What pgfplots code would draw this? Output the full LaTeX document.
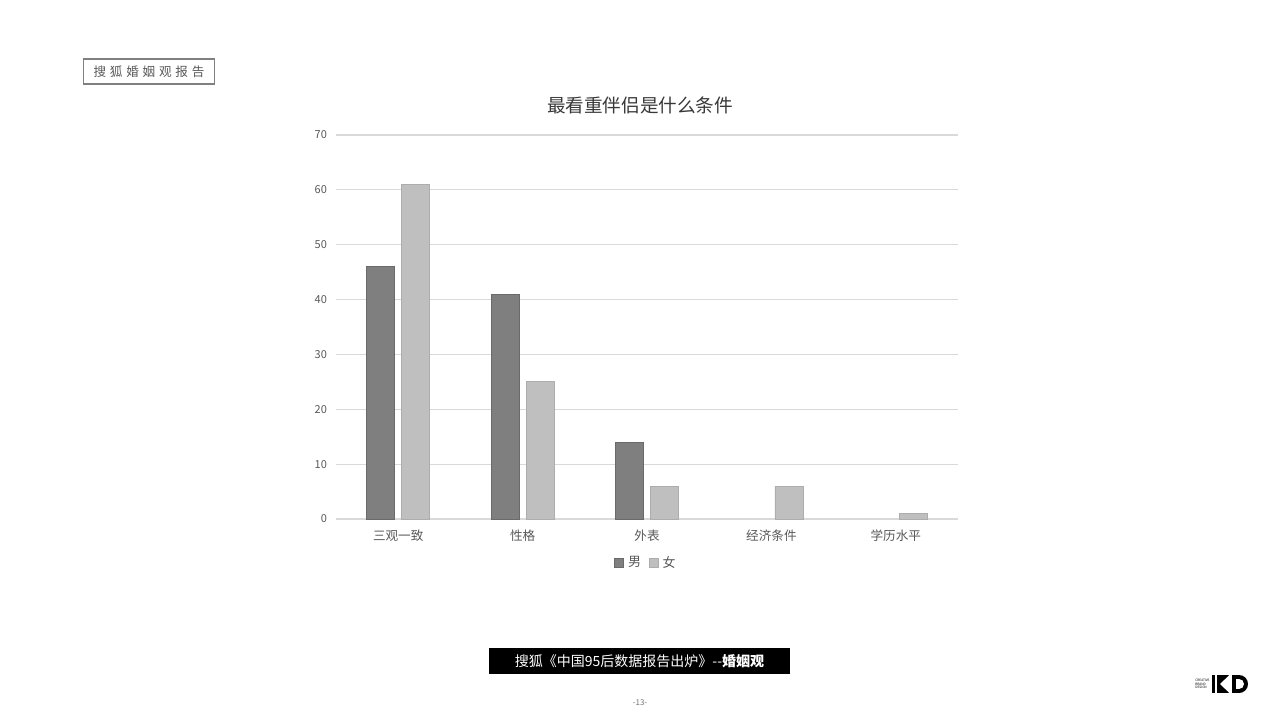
\documentclass[border=0pt]{standalone}
\usepackage{pgfplots}
\pgfplotsset{compat=1.18}
\usepackage{fontspec}
\setmainfont{Noto Sans CJK SC}
\definecolor{barM}{HTML}{7F7F7F}
\definecolor{barMe}{HTML}{6A6A6A}
\definecolor{barF}{HTML}{BFBFBF}
\definecolor{barFe}{HTML}{ADADAD}
\definecolor{gridc}{HTML}{D9D9D9}
\definecolor{txt}{HTML}{595959}
\begin{document}
\begin{tikzpicture}[x=0.5pt,y=0.5pt]
% page, 1 unit = 1 px of the 1280x720 slide
\fill[white] (0,0) rectangle (1280,720);
% top-left tag
\draw[color=black!50,line width=0.6pt] (83.5,636) rectangle (214.5,661);
\node[color=black!65,font=\fontsize{6.3}{7}\selectfont] at (149,648.5)
  {搜\hspace{1.9pt}狐\hspace{1.9pt}婚\hspace{1.9pt}姻\hspace{1.9pt}观\hspace{1.9pt}报\hspace{1.9pt}告};
% title
\node[color=black!78,font=\fontsize{9.3}{10}\selectfont] at (640,615) {最看重伴侣是什么条件};
\begin{axis}[
 at={(168pt,100.5pt)},anchor=south west,
 scale only axis,width=311pt,height=192pt,
 xmin=-0.5,xmax=4.5,ymin=0,ymax=70,
 ybar=3.5pt,bar width=14pt,
 axis line style={draw=none},
 major tick length=0pt,
 ytick={0,10,...,70},
 xtick={0,1,2,3,4},
 xticklabels={三观一致,性格,外表,经济条件,学历水平},
 ymajorgrids,grid style={gridc,line width=0.6pt},
 /pgf/number format/assume math mode=true,
 yticklabel style={font=\fontsize{5.5}{6}\selectfont,color=txt,xshift=-1pt},
 xticklabel style={font=\fontsize{6.3}{7}\selectfont,color=txt,yshift=-2pt},
 legend style={draw=none,fill=none,at={(0.5,-0.115)},anchor=center,
   legend columns=-1,font=\fontsize{6.5}{7}\selectfont,text=txt,
   /tikz/every even column/.append style={column sep=2pt}},
 legend image code/.code={\draw[#1] (0pt,-2.2pt) rectangle (4.4pt,2.2pt);},
 clip=false,
]
% zero values are kept but not drawn
\addplot[fill=barM,draw=barMe,line width=0.4pt,restrict y to domain=0.01:100] coordinates {(0,46) (1,41) (2,14) (3,0) (4,0)};
\addplot[fill=barF,draw=barFe,line width=0.4pt,restrict y to domain=0.01:100] coordinates {(0,61) (1,25) (2,6) (3,6) (4,1)};
\legend{男,女}
\end{axis}
% bottom banner
\fill[black] (489,46) rectangle (790,72);
\node[color=white,font=\fontsize{7}{8}\selectfont] at (639.5,59) {搜狐《中国95后数据报告出炉》-{}-\textbf{婚姻观}};
\node[color=black!55,font=\fontsize{4}{5}\selectfont] at (640,17) {-13-};
% logo
\node[font=\fontsize{1.6}{1.8}\selectfont,align=left,inner sep=0pt,anchor=east] at (1210,36) {CREATIVE\\BRAND\\DESIGN};
\fill[black] (1212,27) rectangle (1230,45);
\fill[white] (1220,36) -- (1230,45.5) -- (1230,26.5) -- cycle;
\fill[white] (1215,27) rectangle (1217,45);
\fill[black] (1232,27) rectangle (1239,45);
\fill[black] (1239,27) arc (-90:90:9) -- cycle;
\fill[white] (1236,31) rectangle (1239,41);
\fill[white] (1239,31) arc (-90:90:5) -- cycle;
\end{tikzpicture}
\end{document}
